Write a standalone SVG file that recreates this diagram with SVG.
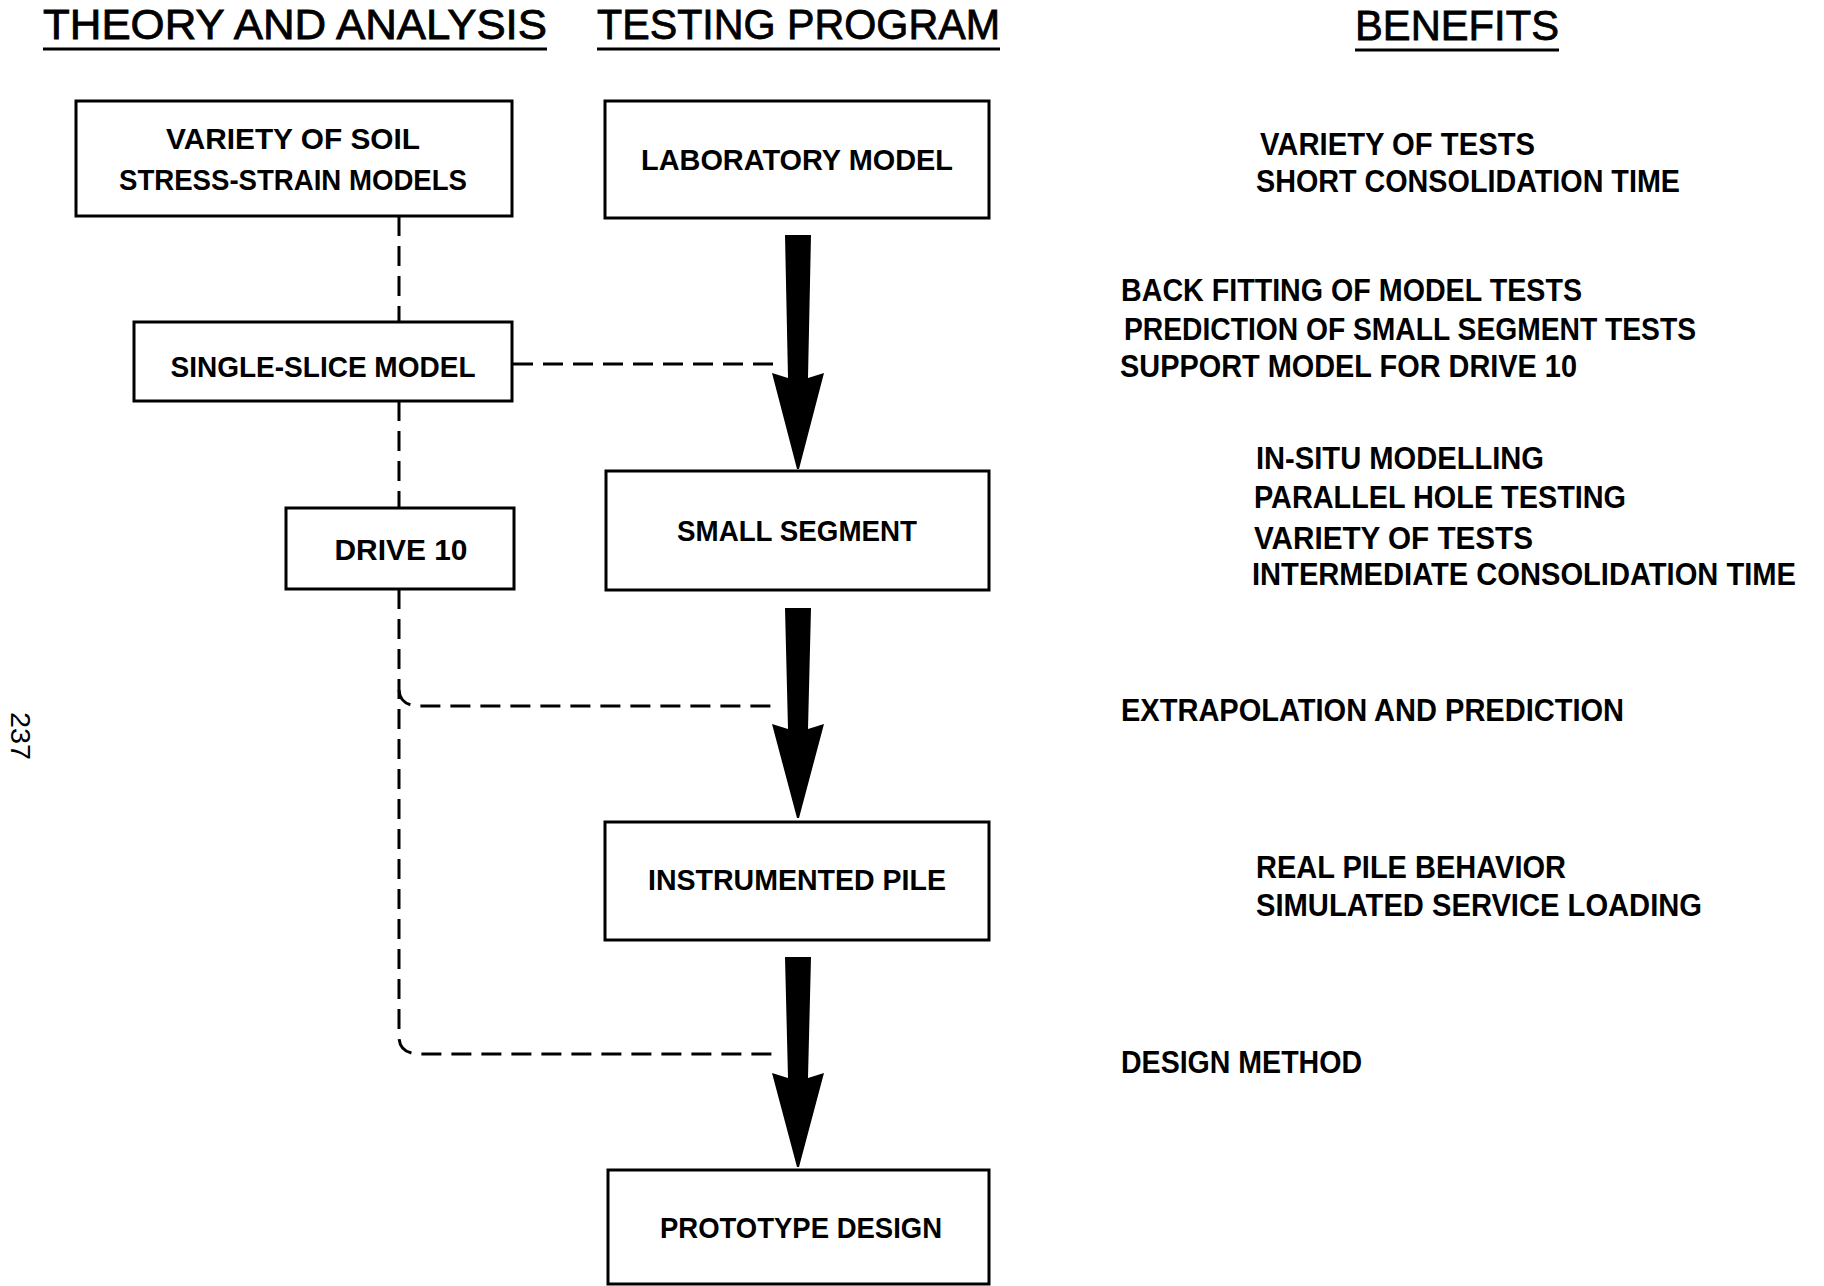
<svg xmlns="http://www.w3.org/2000/svg" width="1824" height="1286" viewBox="0 0 1824 1286">
<style>
.hdr{font-family:"Liberation Sans",Arial,sans-serif;font-size:42px;fill:#000;stroke:#000;stroke-width:0.8}
.box{fill:#fff;stroke:#000;stroke-width:3}
.bt{font-family:"Liberation Sans",Arial,sans-serif;font-size:30px;font-weight:bold;fill:#000;text-anchor:middle}
.ben{font-family:"Liberation Sans",Arial,sans-serif;font-size:31px;font-weight:bold;fill:#000}
.dash{fill:none;stroke:#000;stroke-width:3;stroke-dasharray:20 10}
.ul{stroke:#000;stroke-width:3}
.arr{fill:#000}
</style>
<rect width="1824" height="1286" fill="#fff"/>
<g id="headers">
<text class="hdr" x="43" y="39" textLength="504" lengthAdjust="spacingAndGlyphs">THEORY AND ANALYSIS</text>
<line class="ul" x1="43" y1="49" x2="547" y2="49"/>
<text class="hdr" x="597" y="39" textLength="403" lengthAdjust="spacingAndGlyphs">TESTING PROGRAM</text>
<line class="ul" x1="597" y1="49" x2="1000" y2="49"/>
<text class="hdr" x="1355" y="40" textLength="204" lengthAdjust="spacingAndGlyphs">BENEFITS</text>
<line class="ul" x1="1355" y1="50" x2="1559" y2="50"/>
</g>
<g id="connectors">
<path class="dash" d="M399,216 V322"/>
<path class="dash" d="M399,401 V508"/>
<path class="dash" d="M513,364 H777"/>
<path class="dash" d="M399,589 V1038 Q400,1054 420,1054 H777"/>
<path class="dash" d="M399,690 Q400,706 420,706 H777"/>
<path class="arr" d="M785,235 H811 L808,378 L824,373 L799,469 L797,469 L772,373 L788,378 Z"/>
<path class="arr" d="M785,608 H811 L808,729 L824,724 L799,818 L797,818 L772,724 L788,729 Z"/>
<path class="arr" d="M785,957 H811 L808,1078 L824,1073 L799,1167 L797,1167 L772,1073 L788,1078 Z"/>
</g>
<g id="node-variety">
<rect class="box" x="76" y="101" width="436" height="115"/>
<text class="bt" x="293" y="149" textLength="254" lengthAdjust="spacingAndGlyphs">VARIETY OF SOIL</text>
<text class="bt" x="293" y="190" textLength="348" lengthAdjust="spacingAndGlyphs">STRESS-STRAIN MODELS</text>
</g>
<g id="node-lab">
<rect class="box" x="605" y="101" width="384" height="117"/>
<text class="bt" x="797" y="170" textLength="312" lengthAdjust="spacingAndGlyphs">LABORATORY MODEL</text>
</g>
<g id="node-single">
<rect class="box" x="134" y="322" width="378" height="79"/>
<text class="bt" x="323" y="377" textLength="305" lengthAdjust="spacingAndGlyphs">SINGLE-SLICE MODEL</text>
</g>
<g id="node-drive">
<rect class="box" x="286" y="508" width="228" height="81"/>
<text class="bt" x="401" y="560" textLength="133" lengthAdjust="spacingAndGlyphs">DRIVE 10</text>
</g>
<g id="node-small">
<rect class="box" x="606" y="471" width="383" height="119"/>
<text class="bt" x="797" y="541" textLength="240" lengthAdjust="spacingAndGlyphs">SMALL SEGMENT</text>
</g>
<g id="node-pile">
<rect class="box" x="605" y="822" width="384" height="118"/>
<text class="bt" x="797" y="890" textLength="298" lengthAdjust="spacingAndGlyphs">INSTRUMENTED PILE</text>
</g>
<g id="node-proto">
<rect class="box" x="608" y="1170" width="381" height="114"/>
<text class="bt" x="801" y="1238" textLength="282" lengthAdjust="spacingAndGlyphs">PROTOTYPE DESIGN</text>
</g>
<g id="benefits">
<text class="ben" x="1260" y="155" textLength="275" lengthAdjust="spacingAndGlyphs">VARIETY OF TESTS</text>
<text class="ben" x="1256" y="192" textLength="424" lengthAdjust="spacingAndGlyphs">SHORT CONSOLIDATION TIME</text>
<text class="ben" x="1121" y="301" textLength="461" lengthAdjust="spacingAndGlyphs">BACK FITTING OF MODEL TESTS</text>
<text class="ben" x="1124" y="340" textLength="572" lengthAdjust="spacingAndGlyphs">PREDICTION OF SMALL SEGMENT TESTS</text>
<text class="ben" x="1120" y="377" textLength="457" lengthAdjust="spacingAndGlyphs">SUPPORT MODEL FOR DRIVE 10</text>
<text class="ben" x="1256" y="469" textLength="288" lengthAdjust="spacingAndGlyphs">IN-SITU MODELLING</text>
<text class="ben" x="1254" y="508" textLength="372" lengthAdjust="spacingAndGlyphs">PARALLEL HOLE TESTING</text>
<text class="ben" x="1254" y="549" textLength="279" lengthAdjust="spacingAndGlyphs">VARIETY OF TESTS</text>
<text class="ben" x="1252" y="585" font-size="27" textLength="544" lengthAdjust="spacingAndGlyphs">INTERMEDIATE CONSOLIDATION TIME</text>
<text class="ben" x="1121" y="721" textLength="503" lengthAdjust="spacingAndGlyphs">EXTRAPOLATION AND PREDICTION</text>
<text class="ben" x="1256" y="878" textLength="310" lengthAdjust="spacingAndGlyphs">REAL PILE BEHAVIOR</text>
<text class="ben" x="1256" y="916" textLength="446" lengthAdjust="spacingAndGlyphs">SIMULATED SERVICE LOADING</text>
<text class="ben" x="1121" y="1073" textLength="241" lengthAdjust="spacingAndGlyphs">DESIGN METHOD</text>
</g>
<text x="11" y="712" transform="rotate(90 11 712)" font-family="Liberation Sans, Arial, sans-serif" font-size="28" fill="#000" textLength="48" lengthAdjust="spacingAndGlyphs">237</text>
</svg>
